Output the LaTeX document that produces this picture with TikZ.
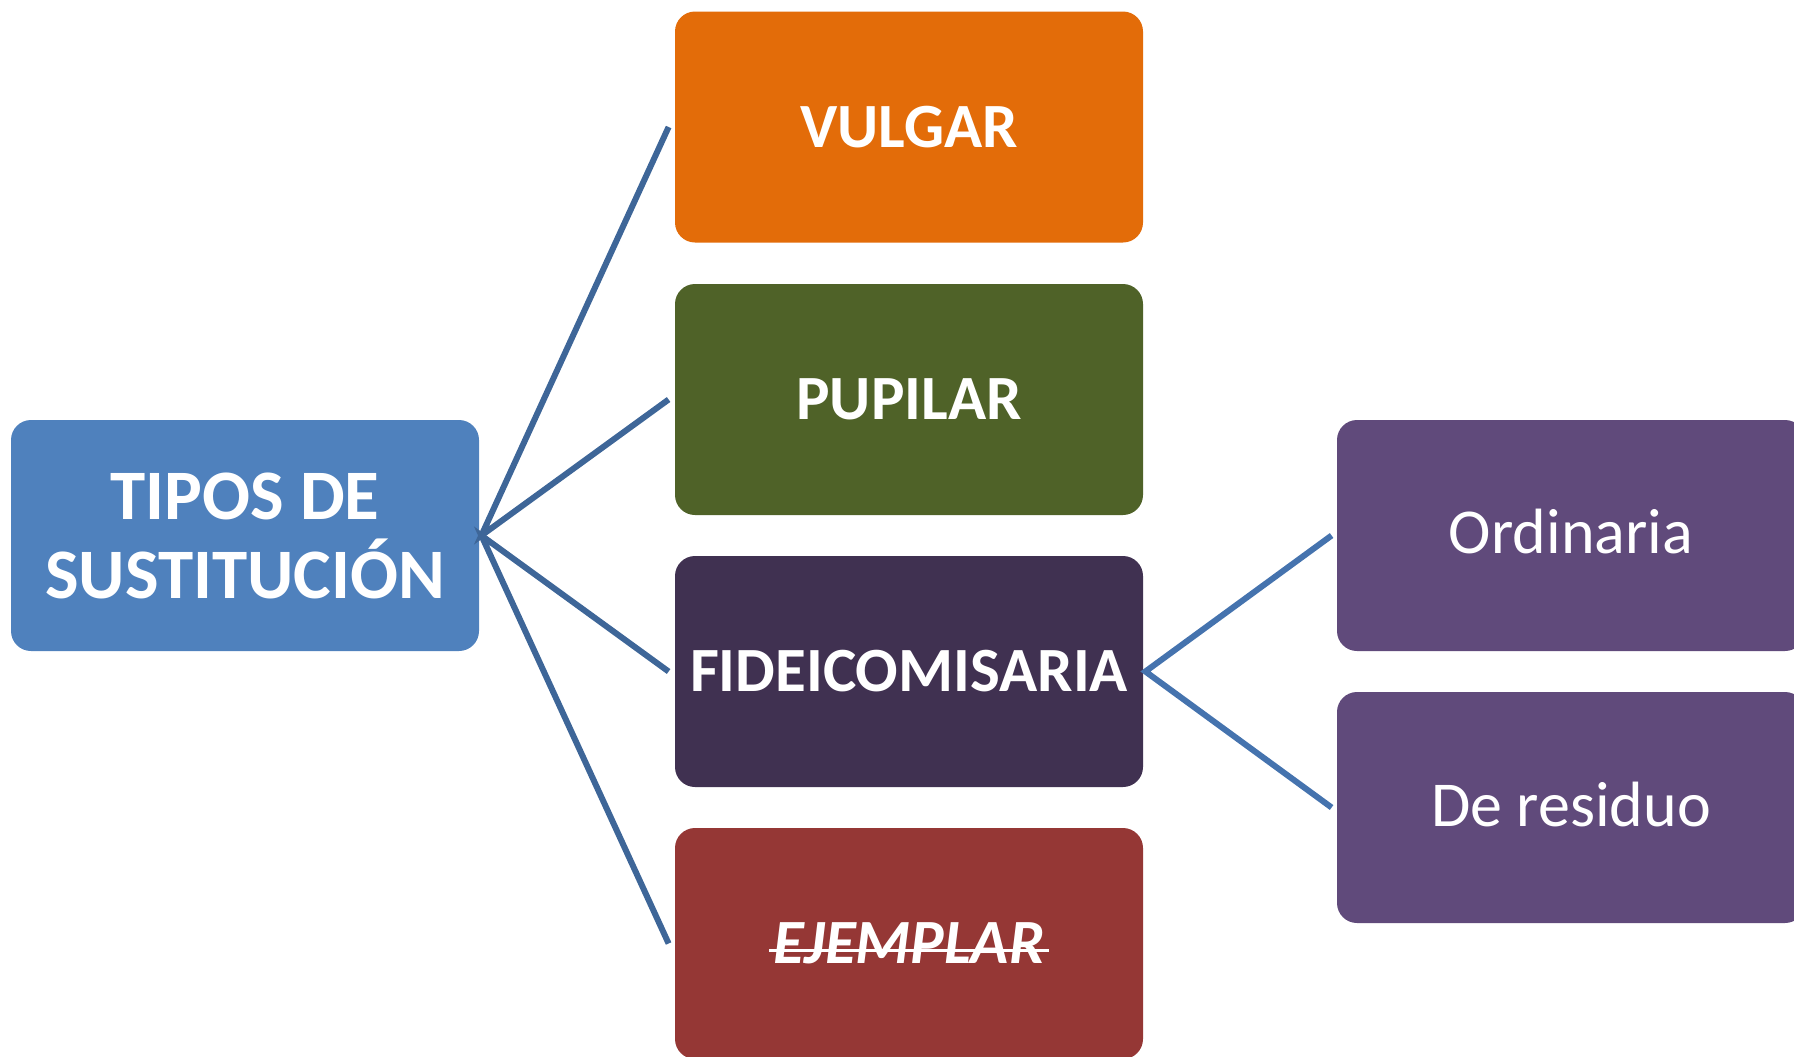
\documentclass[tikz,border=0pt]{standalone}
\usepackage{fontspec}
\setmainfont{Carlito}
\newsavebox{\strikebox}
\newcommand{\mystrike}[1]{\sbox{\strikebox}{#1}\rlap{\hspace{-2pt}\raisebox{0.28\ht\strikebox}{\rule{\dimexpr\wd\strikebox+4pt\relax}{1.6pt}}}\usebox{\strikebox}}
\definecolor{rootblue}{HTML}{4F81BD}
\definecolor{vulgarc}{HTML}{E36C09}
\definecolor{pupilarc}{HTML}{4F6228}
\definecolor{fideic}{HTML}{403151}
\definecolor{ejemc}{HTML}{953735}
\definecolor{subc}{HTML}{604A7B}
\definecolor{linkone}{HTML}{3E6698}
\definecolor{linktwo}{HTML}{4573AE}
\tikzset{
  card/.style={rectangle, rounded corners=10pt, minimum width=234pt, minimum height=115.5pt,
    inner sep=0pt, text=white, align=center},
  bigtxt/.style={font=\fontsize{31.5pt}{36pt}\selectfont\bfseries},
  subtxt/.style={font=\fontsize{32pt}{37pt}\selectfont},
  linkA/.style={draw=linkone, line width=3pt},
  linkB/.style={draw=linktwo, line width=3pt},
}
\begin{document}
\begin{tikzpicture}[x=0.5pt,y=-0.5pt]
\useasboundingbox (0,0) rectangle (1794,1056);
\clip (0,0) rectangle (1794,1056);
\node[card, fill=rootblue, font=\fontsize{35.5pt}{39.5pt}\selectfont\bfseries] (root) at (245,535.5) {TIPOS DE\\SUSTITUCIÓN};
\node[card, bigtxt, fill=vulgarc] (vulgar) at (909,127) {VULGAR};
\node[card, bigtxt, fill=pupilarc] (pupilar) at (909,399.5) {PUPILAR};
\node[card, bigtxt, fill=fideic] (fidei) at (909,671.5) {FIDEICOMISARIA};
\node[card, bigtxt, fill=ejemc] (ejem) at (909,943.5) {\mystrike{\itshape EJEMPLAR}};
\node[card, subtxt, fill=subc] (ord) at (1571,535.5) {};
\node[subtxt, text=white, inner sep=0pt] (ordt) at ([yshift=2pt]ord.center) {Ordinaria};
\node[card, subtxt, fill=subc] (res) at (1571,807.5) {};
\node[subtxt, text=white, inner sep=0pt] (rest) at ([yshift=1.5pt]res.center) {De residuo};
\coordinate (rootout) at ([xshift=1pt]root.east);
\coordinate (vin) at ([xshift=-3pt]vulgar.west);
\coordinate (pin) at ([xshift=-3pt]pupilar.west);
\coordinate (fin) at ([xshift=-3pt]fidei.west);
\coordinate (ein) at ([xshift=-3pt]ejem.west);
\coordinate (fout) at ([xshift=1pt]fidei.east);
\coordinate (oin) at ([xshift=-2.5pt]ord.west);
\coordinate (rin) at ([xshift=-2.5pt]res.west);
\draw[linkA] (vin) -- (rootout) -- (pin);
\draw[linkA] (fin) -- (rootout) -- (ein);
\draw[linkB] (oin) -- (fout) -- (rin);
\end{tikzpicture}
\end{document}
